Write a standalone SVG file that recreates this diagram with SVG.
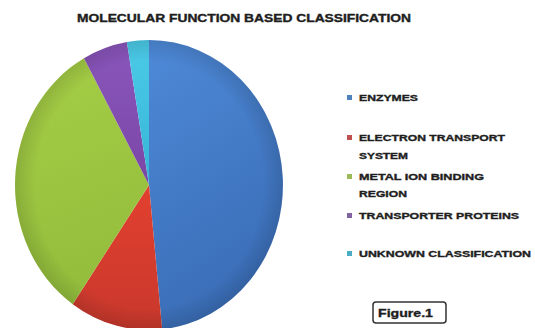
<svg xmlns="http://www.w3.org/2000/svg" width="535" height="328" viewBox="0 0 535 328">
<style>
.t{font-family:"Liberation Sans",Arial,sans-serif;font-weight:bold;fill:#1e1e1e;stroke:#1e1e1e;stroke-width:0.35;}
.lg{font-size:9px;}
</style>
<defs>
<linearGradient id="gBlue" x1="0" y1="0" x2="0.3" y2="1"><stop offset="0" stop-color="#4e8ad8"/><stop offset="1" stop-color="#3a6db6"/></linearGradient>
<linearGradient id="gRed" x1="0" y1="0" x2="0" y2="1"><stop offset="0" stop-color="#e2402f"/><stop offset="1" stop-color="#c8382c"/></linearGradient>
<linearGradient id="gGreen" x1="0" y1="0" x2="0.2" y2="1"><stop offset="0" stop-color="#a6ce46"/><stop offset="1" stop-color="#93bd3c"/></linearGradient>
<linearGradient id="gPurple" x1="0" y1="0" x2="0" y2="1"><stop offset="0" stop-color="#8a56bc"/><stop offset="1" stop-color="#7a47a6"/></linearGradient>
<linearGradient id="gCyan" x1="0" y1="0" x2="0" y2="1"><stop offset="0" stop-color="#4ccbe8"/><stop offset="1" stop-color="#36b4d6"/></linearGradient>
<radialGradient id="gEdge" cx="0.5" cy="0.5" r="0.5"><stop offset="0.85" stop-color="#000" stop-opacity="0"/><stop offset="1" stop-color="#000" stop-opacity="0.12"/></radialGradient>
</defs>
<rect width="535" height="328" fill="#ffffff"/>
<text class="t" x="77" y="22" font-size="10.5" textLength="334" lengthAdjust="spacingAndGlyphs">MOLECULAR FUNCTION BASED CLASSIFICATION</text>
<g id="pie">
<g id="slice-enzymes"><path d="M149,185 L149,40 A134,145 0 0 1 162.1,329.3 Z" fill="url(#gBlue)"/></g>
<g id="slice-electron"><path d="M149,185 L162.1,329.3 A134,145 0 0 1 72.7,304.2 Z" fill="url(#gRed)"/></g>
<g id="slice-metal"><path d="M149,185 L72.7,304.2 A134,145 0 0 1 84,58.2 Z" fill="url(#gGreen)"/></g>
<g id="slice-transporter"><path d="M149,185 L84,58.2 A134,145 0 0 1 126.9,42 Z" fill="url(#gPurple)"/></g>
<g id="slice-unknown"><path d="M149,185 L126.9,42 A134,145 0 0 1 149,40 Z" fill="url(#gCyan)"/></g>
<ellipse cx="149" cy="185" rx="134" ry="145" fill="url(#gEdge)"/>
</g>
<g id="legend">
<g id="lg-enzymes"><rect x="347" y="95" width="5" height="5" fill="#4f81bd"/><text class="t lg" x="359" y="101" textLength="59" lengthAdjust="spacingAndGlyphs">ENZYMES</text></g>
<g id="lg-electron"><rect x="347" y="135" width="5" height="5" fill="#c0504d"/><text class="t lg" x="359" y="141" textLength="146" lengthAdjust="spacingAndGlyphs">ELECTRON TRANSPORT</text><text class="t lg" x="359" y="158.5" textLength="49" lengthAdjust="spacingAndGlyphs">SYSTEM</text></g>
<g id="lg-metal"><rect x="347" y="174" width="5" height="5" fill="#9bbb59"/><text class="t lg" x="359" y="180" textLength="125" lengthAdjust="spacingAndGlyphs">METAL ION BINDING</text><text class="t lg" x="359" y="197" textLength="48" lengthAdjust="spacingAndGlyphs">REGION</text></g>
<g id="lg-transporter"><rect x="347" y="213" width="5" height="5" fill="#8064a2"/><text class="t lg" x="359" y="219" textLength="160" lengthAdjust="spacingAndGlyphs">TRANSPORTER PROTEINS</text></g>
<g id="lg-unknown"><rect x="347" y="251" width="5" height="5" fill="#4bacc6"/><text class="t lg" x="359" y="256.5" textLength="172" lengthAdjust="spacingAndGlyphs">UNKNOWN CLASSIFICATION</text></g>
</g>
<g id="figure-label">
<rect x="373" y="302" width="73" height="21" rx="3" fill="#ffffff" stroke="#333333" stroke-width="1.5"/>
<text class="t" x="378" y="317" font-size="11" textLength="55" lengthAdjust="spacingAndGlyphs">Figure.1</text>
</g>
</svg>
